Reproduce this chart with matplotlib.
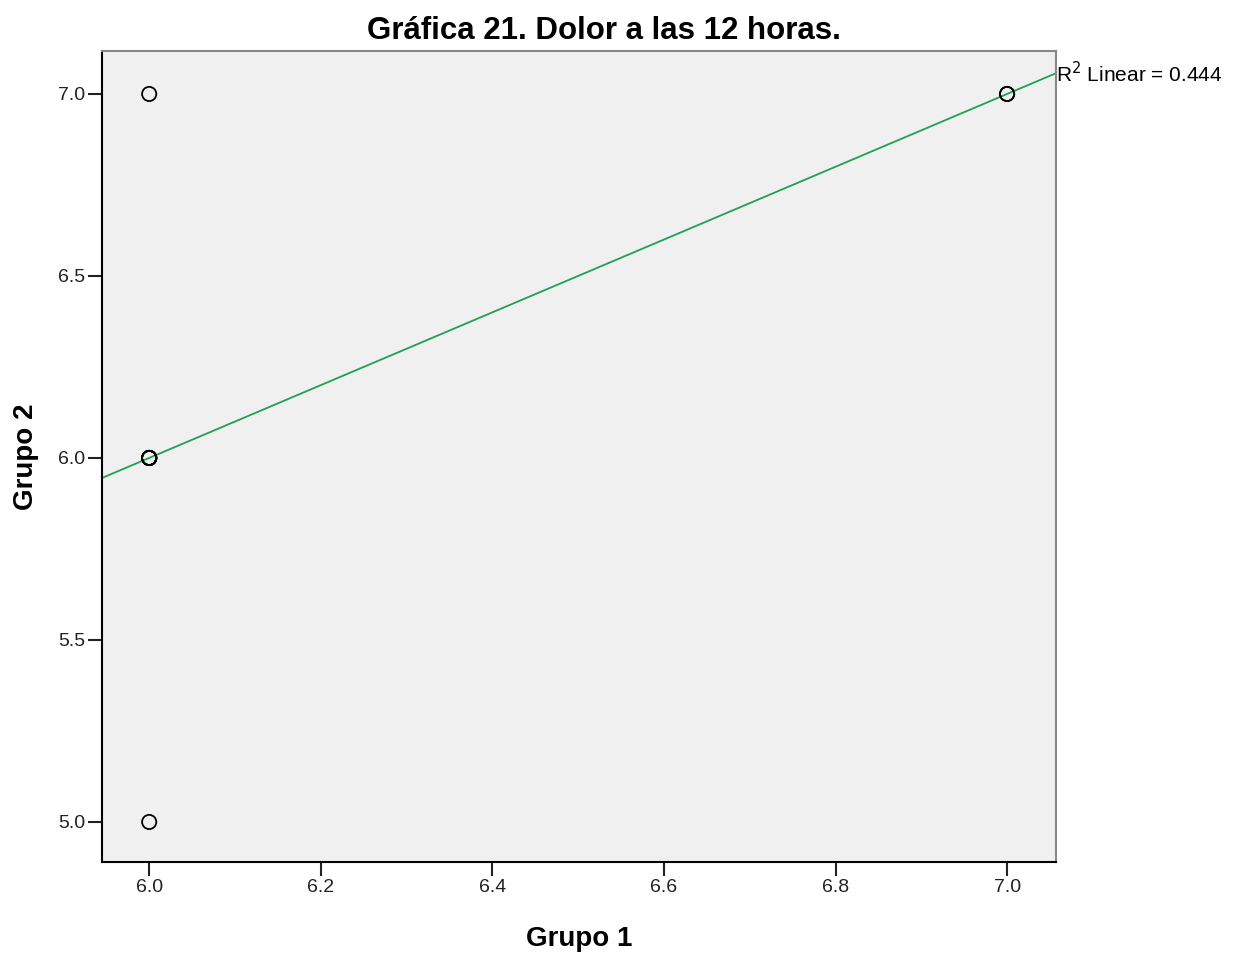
import numpy as np
import matplotlib
matplotlib.use("Agg")
import matplotlib.pyplot as plt

plt.rcParams['font.family'] = ['Liberation Sans', 'DejaVu Sans']

# Data (Grupo 1 vs Grupo 2)
grupo1 = [6, 6, 6, 6, 6, 6, 6, 6, 7, 7]
grupo2 = [7, 5, 6, 6, 6, 6, 6, 6, 7, 7]
xticks = [6.0, 6.2, 6.4, 6.6, 6.8, 7.0]
yticks = [5.0, 5.5, 6.0, 6.5, 7.0]
title = "Gráfica 21. Dolor a las 12 horas."

x = np.array(grupo1, dtype=float)
y = np.array(grupo2, dtype=float)
slope, intercept = np.polyfit(x, y, 1)
pred = slope * x + intercept
r2 = 1 - np.sum((y - pred) ** 2) / np.sum((y - y.mean()) ** 2)

fig = plt.figure(figsize=(12.41, 9.56), dpi=100)
ax = fig.add_axes([102 / 1241, 1 - 862 / 956, (1056 - 102) / 1241, (862 - 51) / 956])
ax.set_facecolor('#f0f0f0')

xlim = (5.945, 7.057)
ylim = (4.89, 7.118)
ax.set_xlim(*xlim)
ax.set_ylim(*ylim)

# regression line
xx = np.array(xlim)
ax.plot(xx, slope * xx + intercept, color='#1fa055', lw=1.3, zorder=2)

ax.scatter(x, y, s=105, facecolors='none', edgecolors='black', linewidths=1.3, zorder=3)

ax.text(1.0, slope * xlim[1] + intercept, f"R$^2$ Linear = {r2:.3f}",
        transform=ax.get_yaxis_transform(), ha='left', va='center', fontsize=15, clip_on=False)

ax.set_xticks(xticks)
ax.set_xticklabels([f"{t:.1f}" for t in xticks])
ax.set_yticks(yticks)
ax.set_yticklabels([f"{t:.1f}" for t in yticks])
ax.tick_params(axis='both', length=10, width=1.5, labelsize=14, pad=2,
               color='#222222', labelcolor='#222222')

for side in ['left', 'bottom']:
    ax.spines[side].set_color('black')
    ax.spines[side].set_linewidth(1.5)
for side in ['top', 'right']:
    ax.spines[side].set_color('#888888')
    ax.spines[side].set_linewidth(1.5)

ax.set_xlabel("Grupo 1", fontsize=20, fontweight='bold', labelpad=22)
ax.set_ylabel("Grupo 2", fontsize=20, fontweight='bold', labelpad=14)
ax.set_title(title, fontsize=22.5, fontweight='bold', pad=9, x=0.526)

fig.savefig("out.png", dpi=100)
